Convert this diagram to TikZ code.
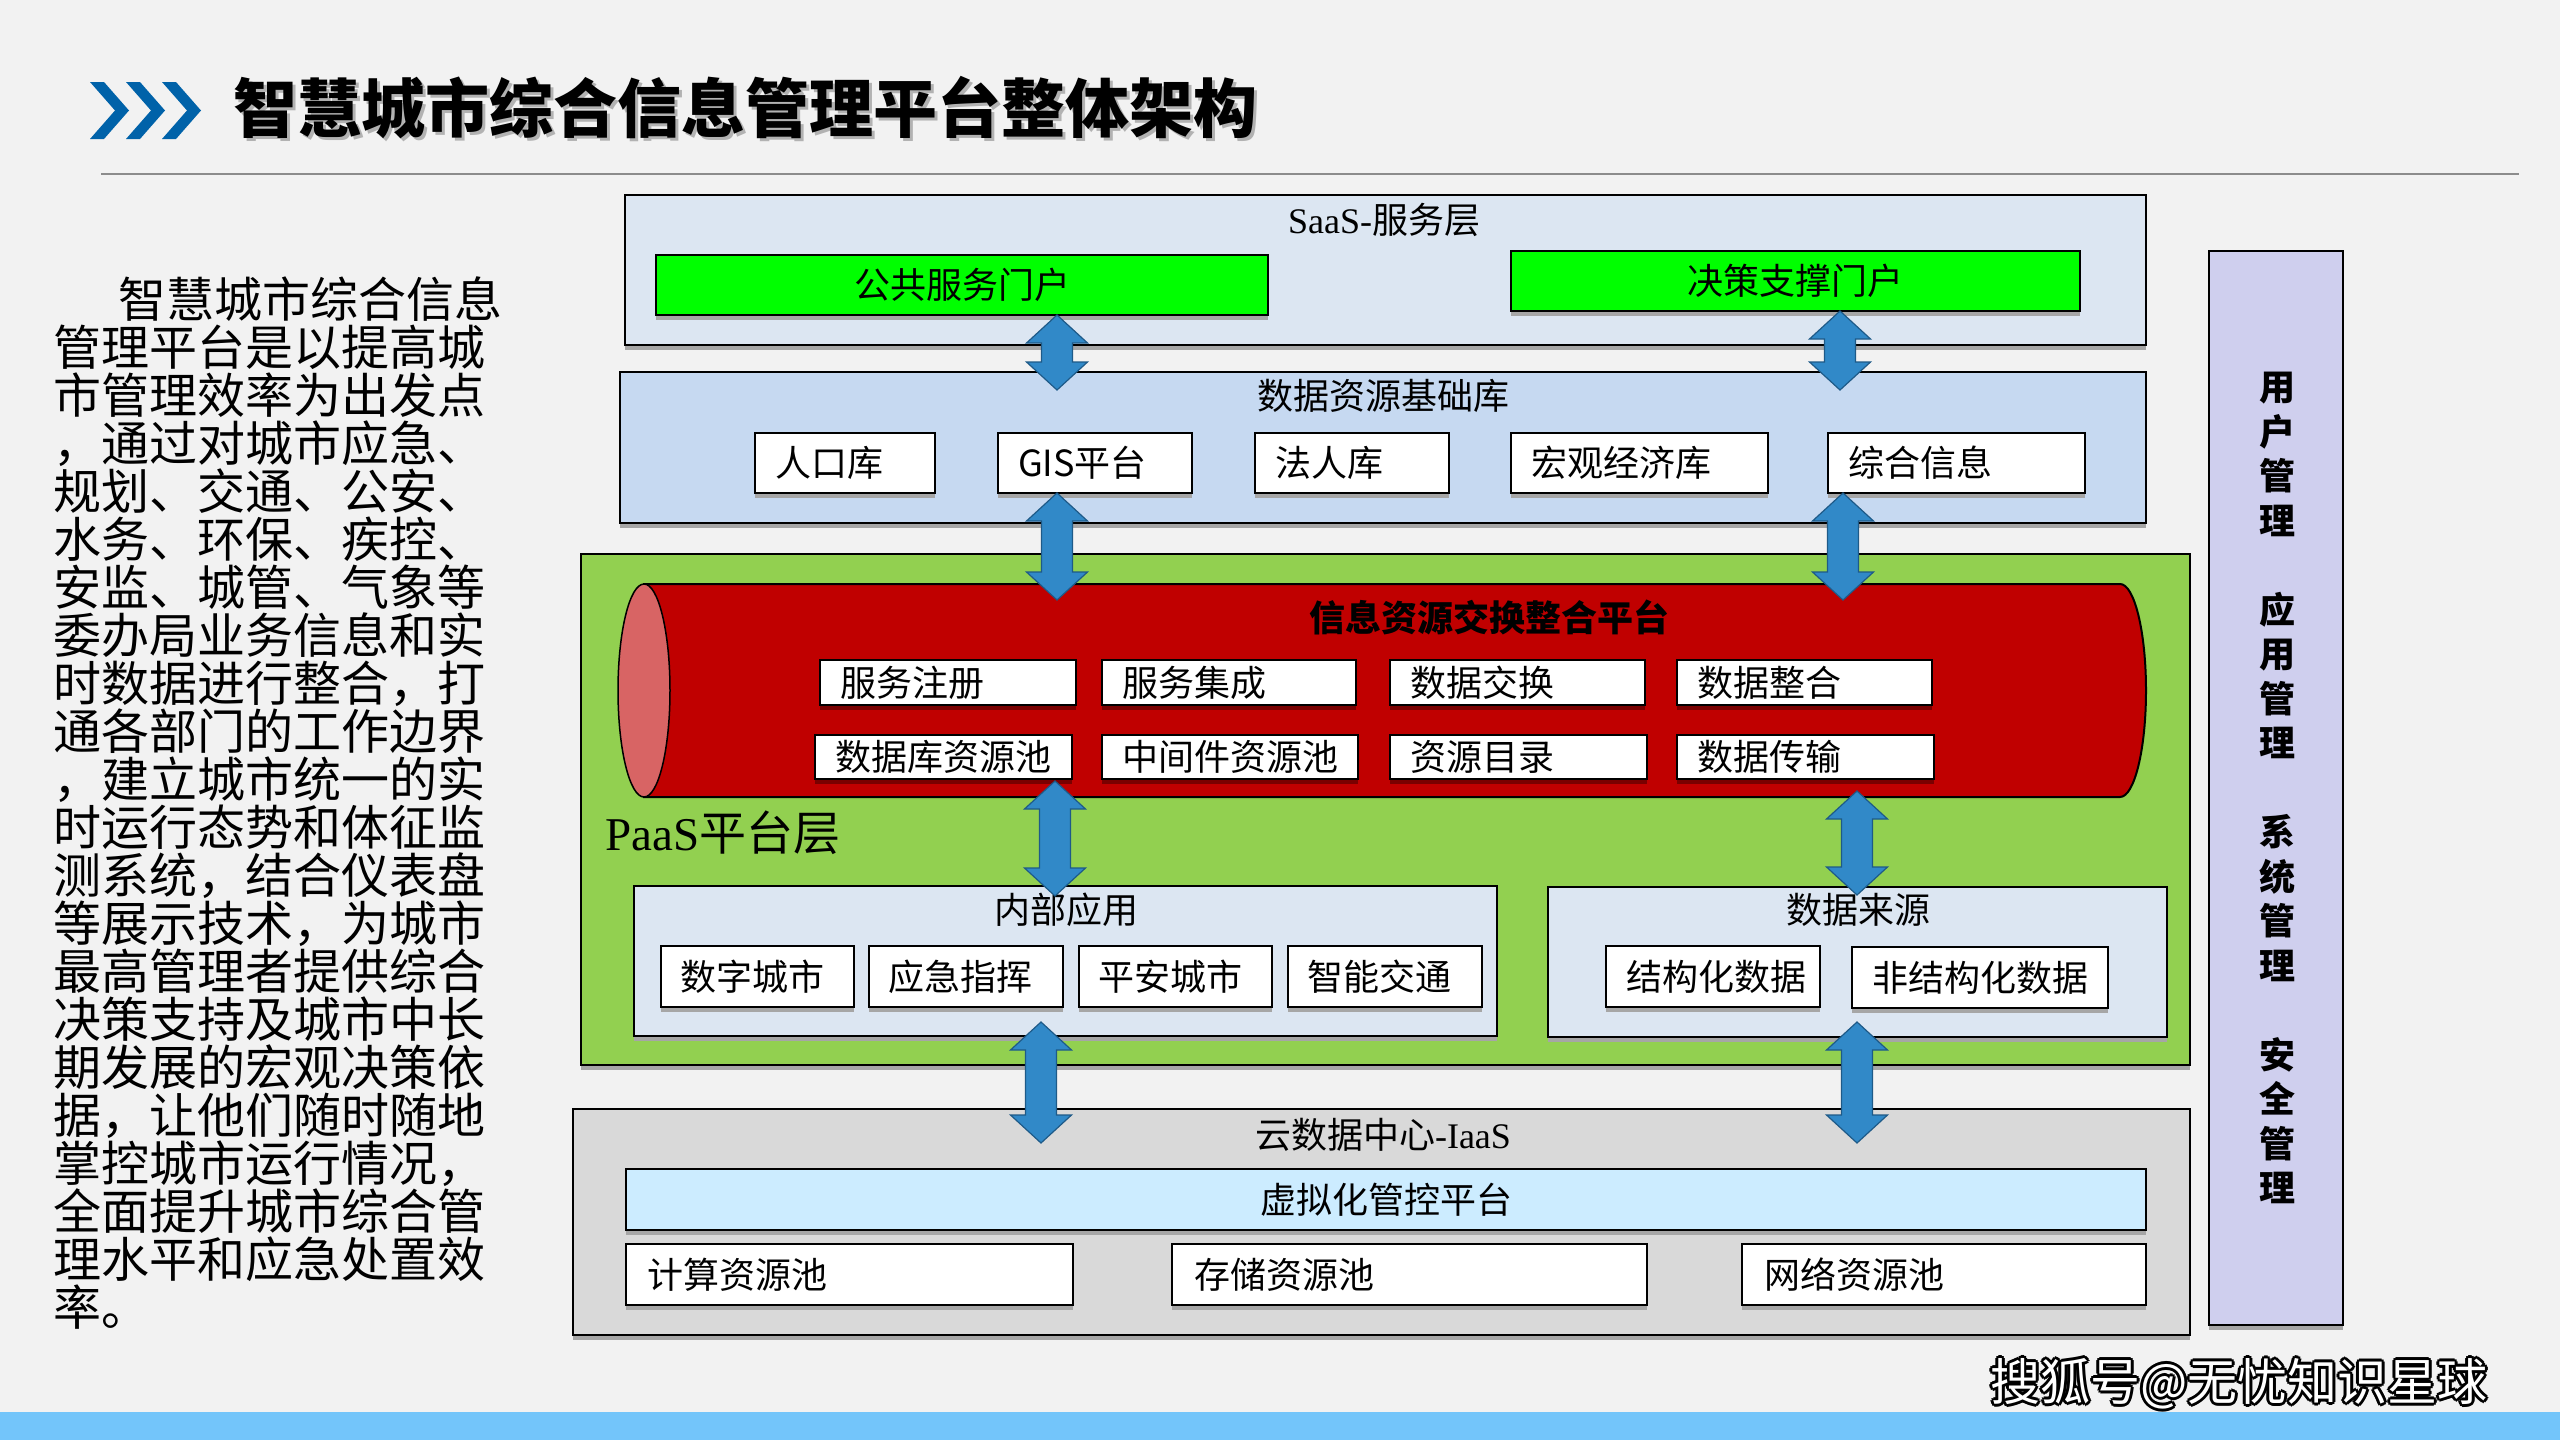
\documentclass[tikz,border=0pt]{standalone}
\usepackage{fontspec}
\setmainfont{Liberation Serif}
\newfontfamily\cjk{Noto Sans CJK SC}
\newfontfamily\lser{Liberation Serif}
\usetikzlibrary{calc,shadows}
\definecolor{bgc}{HTML}{F2F2F2}
\definecolor{saasblue}{HTML}{DCE6F2}
\definecolor{dbblue}{HTML}{C6D9F1}
\definecolor{paasgreen}{HTML}{92D050}
\definecolor{brightgreen}{HTML}{00FF00}
\definecolor{cylred}{HTML}{C00000}
\definecolor{cylface}{HTML}{D86464}
\definecolor{iaasgray}{HTML}{D9D9D9}
\definecolor{virtblue}{HTML}{CCECFF}
\definecolor{sidepurple}{HTML}{CFCFEE}
\definecolor{arrowblue}{HTML}{3189C8}
\definecolor{arrowedge}{HTML}{1E5A88}
\definecolor{bandblue}{HTML}{73C5FA}
\definecolor{chevblue}{HTML}{0062A9}
\definecolor{linegray}{HTML}{8C8C8C}
\definecolor{shgray}{HTML}{A6A6A6}
\definecolor{shred}{HTML}{7A0000}
\newcommand{\blockarrow}[2]{%
  \path[fill=arrowblue,draw=arrowedge,line width=1.2pt] let \p1=(#1), \p2=(#2) in
    (\x1,\y1) -- (\x1+30.5pt,\y1-28pt) -- (\x1+15.5pt,\y1-28pt) -- (\x1+15.5pt,\y2+28pt)
    -- (\x1+30.5pt,\y2+28pt) -- (\x1,\y2) -- (\x1-30.5pt,\y2+28pt) -- (\x1-15.5pt,\y2+28pt)
    -- (\x1-15.5pt,\y1-28pt) -- (\x1-30.5pt,\y1-28pt) -- cycle;}
\begin{document}
\begin{tikzpicture}[x=1pt,y=-1pt,
  shadowed/.style={drop shadow={shadow xshift=0pt,shadow yshift=-5pt,fill=shgray,opacity=1}},
  redshadowed/.style={drop shadow={shadow xshift=0pt,shadow yshift=-5pt,fill=shred,opacity=1}},
  layer/.style={draw=black,line width=2pt,shadowed,inner sep=0pt},
  basebox/.style={draw=black,line width=2pt,inner sep=0pt,font=\cjk\fontsize{36pt}{40pt}\selectfont},
  cbox/.style={basebox,shadowed},
  lbox/.style={basebox,shadowed,fill=white,inner xsep=20pt,align=left},
  rbox/.style={basebox,redshadowed,fill=white,inner xsep=20pt,align=left},
  lab/.style={font=\cjk\fontsize{36pt}{40pt}\selectfont,inner sep=0pt},
  para/.style={font=\cjk\fontsize{48pt}{48pt}\selectfont,inner sep=0pt,anchor=base west},
  wm/.style={font=\cjk\fontsize{50pt}{52pt}\selectfont,inner sep=0pt}
]
\useasboundingbox (0,0) rectangle (2560,1440);
\fill[bgc] (0,0) rectangle (2560,1440);
\fill[bandblue] (0,1412) rectangle (2560,1440);

% title
\foreach \x in {90,126,162}{
  \fill[chevblue] (\x,82) -- (\x+14,82) -- (\x+39,110.5) -- (\x+14,139) -- (\x,139) -- (\x+25,110.5) -- cycle;}
\node[font=\cjk\bfseries\fontsize{64pt}{70pt}\selectfont,text=gray!60,anchor=west,inner sep=0pt] (titlesh) at (236,111) {智慧城市综合信息管理平台整体架构};
\node[font=\cjk\bfseries\fontsize{64pt}{70pt}\selectfont,anchor=west,inner sep=0pt] (title) at (233,108) {智慧城市综合信息管理平台整体架构};
\draw[linegray,line width=2pt] (101,174) -- (2519,174);

% left paragraph
\foreach \t [count=\i] in {\hspace*{65pt}智慧城市综合信息,管理平台是以提高城,市管理效率为出发点,，通过对城市应急、,规划、交通、公安、,水务、环保、疾控、,安监、城管、气象等,委办局业务信息和实,时数据进行整合，打,通各部门的工作边界,，建立城市统一的实,时运行态势和体征监,测系统，结合仪表盘,等展示技术，为城市,最高管理者提供综合,决策支持及城市中长,期发展的宏观决策依,据，让他们随时随地,掌控城市运行情况，,全面提升城市综合管,理水平和应急处置效,率。}{
  \node[para] (p\i) at (53,{317+48*(\i-1)}) {\t};}

% SaaS layer
\node[layer,fill=saasblue,minimum width=1521pt,minimum height=150pt] (saas) at (1385.5,270) {};
\node[lab] (saaslab) at (1384,220) {{\lser SaaS-}服务层};
\node[cbox,fill=brightgreen,minimum width=612pt,minimum height=60pt] (pub) at (962,285) {公共服务门户};
\node[cbox,fill=brightgreen,minimum width=569pt,minimum height=60pt] (dec) at (1795.5,281) {决策支撑门户};

% data resource layer
\node[layer,fill=dbblue,minimum width=1526pt,minimum height=151pt] (db) at (1383,447.5) {};
\node[lab] (dblab) at (1383,396) {数据资源基础库};
\node[lbox,minimum height=60pt,text width=140pt] (rk) at (845,463) {人口库};
\node[lbox,minimum height=60pt,text width=154pt] (gis) at (1095,463) {GIS平台};
\node[lbox,minimum height=60pt,text width=154pt] (fr) at (1352,463) {法人库};
\node[lbox,minimum height=60pt,text width=217pt] (hg) at (1639.5,463) {宏观经济库};
\node[lbox,minimum height=60pt,text width=217pt] (zh) at (1956.5,463) {综合信息};

% PaaS layer
\node[layer,fill=paasgreen,minimum width=1609pt,minimum height=511pt] (paas) at (1385.5,809.5) {};
\filldraw[fill=cylred,draw=black,line width=2pt] (644,584) -- (2120,584)
  arc[start angle=90,end angle=-90,x radius=26pt,y radius=106.5pt] -- (644,797) -- cycle;
\filldraw[fill=cylface,draw=black,line width=1.5pt] (644,690.5) ellipse [x radius=26pt,y radius=106.5pt];
\node[font=\cjk\bfseries\fontsize{36pt}{40pt}\selectfont,inner sep=0pt] (cyltitle) at (1489,617) {信息资源交换整合平台};
\node[rbox,minimum height=45pt,text width=216pt] (fwzc) at (948,682.5) {服务注册};
\node[rbox,minimum height=45pt,text width=214pt] (fwjc) at (1229,682.5) {服务集成};
\node[rbox,minimum height=45pt,text width=215pt] (sjjh) at (1517.5,682.5) {数据交换};
\node[rbox,minimum height=45pt,text width=215pt] (sjzh) at (1804.5,682.5) {数据整合};
\node[rbox,minimum height=44pt,text width=217pt] (sjk) at (943.5,757) {数据库资源池};
\node[rbox,minimum height=44pt,text width=216pt] (zjj) at (1230,757) {中间件资源池};
\node[rbox,minimum height=44pt,text width=217pt] (zyml) at (1518.5,757) {资源目录};
\node[rbox,minimum height=44pt,text width=217pt] (sjcs) at (1805.5,757) {数据传输};
\node[font=\cjk\fontsize{47pt}{50pt}\selectfont,anchor=west,inner sep=0pt] (paaslab) at (605,833) {{\lser PaaS}平台层};

\node[layer,fill=saasblue,minimum width=863pt,minimum height=150pt] (apps) at (1065.5,961) {};
\node[lab] (appslab) at (1066,910) {内部应用};
\node[lbox,minimum height=61pt,text width=155pt,inner xsep=19pt] (szcs) at (757.5,976.5) {数字城市};
\node[lbox,minimum height=61pt,text width=156pt,inner xsep=19pt] (yjzh) at (966,976.5) {应急指挥};
\node[lbox,minimum height=61pt,text width=155pt,inner xsep=19pt] (pacs) at (1175.5,976.5) {平安城市};
\node[lbox,minimum height=61pt,text width=156pt,inner xsep=19pt] (znjt) at (1385,976.5) {智能交通};

\node[layer,fill=saasblue,minimum width=619pt,minimum height=150pt] (src) at (1857.5,962) {};
\node[lab] (srclab) at (1858,910) {数据来源};
\node[lbox,minimum height=61pt,text width=174pt] (jgh) at (1713,976.5) {结构化数据};
\node[lbox,minimum height=61pt,text width=216pt] (fjgh) at (1980,977.5) {非结构化数据};

% IaaS layer
\node[layer,fill=iaasgray,minimum width=1617pt,minimum height=226pt] (iaas) at (1381.5,1222) {};
\node[lab] (iaaslab) at (1383,1135) {云数据中心{\lser -IaaS}};
\node[cbox,fill=virtblue,minimum width=1520pt,minimum height=61pt] (virt) at (1386,1199.5) {虚拟化管控平台};
\node[lbox,minimum height=61pt,text width=405pt,inner xsep=21pt] (jszy) at (849.5,1274.5) {计算资源池};
\node[lbox,minimum height=61pt,text width=431pt,inner xsep=22pt] (cczy) at (1409.5,1274.5) {存储资源池};
\node[lbox,minimum height=61pt,text width=360pt,inner xsep=22pt] (wlzy) at (1944,1274.5) {网络资源池};

% side management column
\node[layer,fill=sidepurple,minimum width=134pt,minimum height=1074pt] (side) at (2276,788) {};
\node[font=\cjk\bfseries\fontsize{36pt}{44.5pt}\selectfont,align=center,inner sep=0pt] (sidetext) at (2277,788)
  {用\\户\\管\\理\\[44.5pt]应\\用\\管\\理\\[44.5pt]系\\统\\管\\理\\[44.5pt]安\\全\\管\\理};

% arrows
\coordinate (a1t) at (1057,315); \coordinate (a1b) at (1057,390);
\coordinate (a2t) at (1840,311); \coordinate (a2b) at (1840,390);
\coordinate (a3t) at (1057,493); \coordinate (a3b) at (1057,600);
\coordinate (a4t) at (1843,493); \coordinate (a4b) at (1843,600);
\coordinate (a5t) at (1055,781); \coordinate (a5b) at (1055,896);
\coordinate (a6t) at (1857,791); \coordinate (a6b) at (1857,895);
\coordinate (a7t) at (1041,1022); \coordinate (a7b) at (1041,1143);
\coordinate (a8t) at (1857,1022); \coordinate (a8b) at (1857,1143);
\blockarrow{a1t}{a1b}
\blockarrow{a2t}{a2b}
\blockarrow{a3t}{a3b}
\blockarrow{a4t}{a4b}
\blockarrow{a5t}{a5b}
\blockarrow{a6t}{a6b}
\blockarrow{a7t}{a7b}
\blockarrow{a8t}{a8b}

% watermark
\foreach \dx/\dy [count=\k] in {-2/-2,-2/2,2/-2,2/2,0/-3,0/3,-3/0,3/0}{
  \node[wm,text=black] (wmo\k) at (2239+\dx,1384+\dy) {搜狐号@无忧知识星球};}
\node[wm,text=white] (wm) at (2239,1384) {搜狐号@无忧知识星球};
\end{tikzpicture}
\end{document}
